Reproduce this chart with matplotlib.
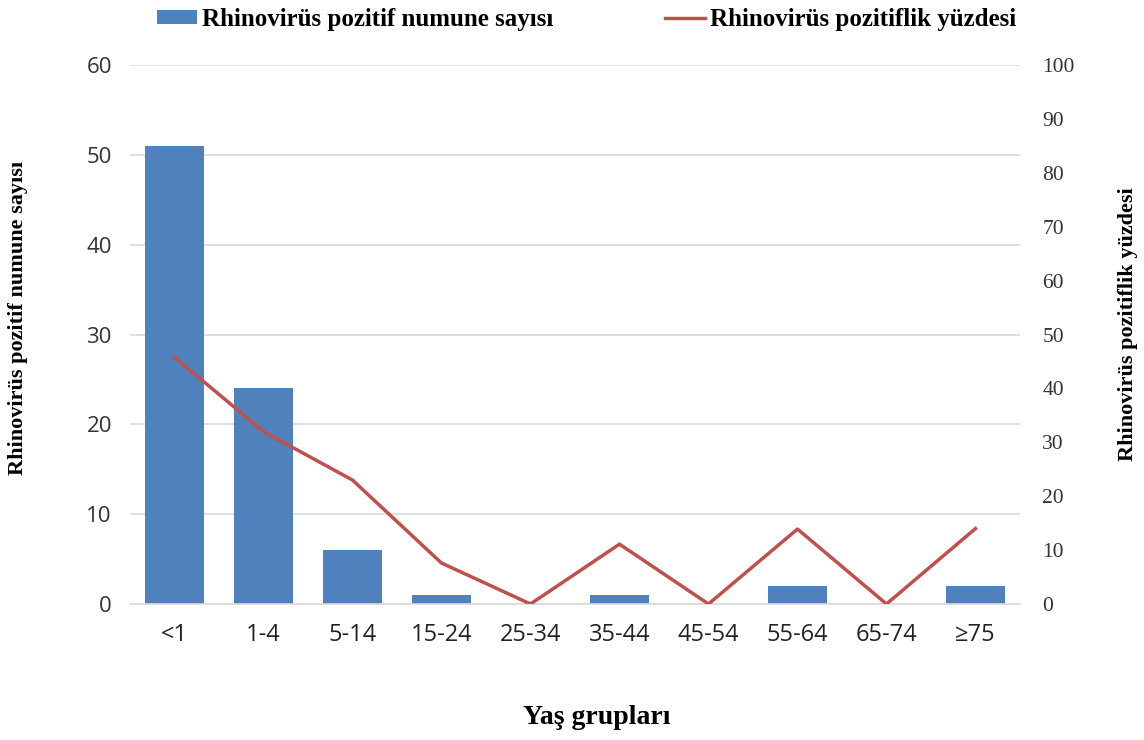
import matplotlib.pyplot as plt
import numpy as np

# data
yas_gruplari = ["<1", "1-4", "5-14", "15-24", "25-34", "35-44", "45-54", "55-64", "65-74", "≥75"]
pozitif_sayi = [51, 24, 6, 1, 0, 1, 0, 2, 0, 2]
pozitif_yuzde = [45.8, 32.0, 23.0, 7.6, 0, 11.1, 0, 13.9, 0, 14.0]

bar_renk = "#4F81BD"
cizgi_renk = "#C0504D"
serif = ["Liberation Serif", "DejaVu Serif"]
sans = ["Open Sans", "DejaVu Sans"]

fig = plt.figure(figsize=(11.44, 7.4), dpi=100)
ax = fig.add_axes([0.1136, 0.1838, 0.778, 0.7282])
ax2 = ax.twinx()

x = np.arange(len(yas_gruplari))
ax.bar(x, pozitif_sayi, width=0.67, color=bar_renk, zorder=2,
       label="Rhinovirüs pozitif numune sayısı")
ax2.plot(x, pozitif_yuzde, color=cizgi_renk, lw=2.5, zorder=3,
         label="Rhinovirüs pozitiflik yüzdesi")

ax.set_xlim(-0.5, len(yas_gruplari) - 0.5)
ax.set_ylim(0, 60)
ax.set_yticks(range(0, 61, 10))
ax2.set_ylim(0, 100)
ax2.set_yticks(range(0, 101, 10))

ax.grid(axis="y", color="#D9D9D9", lw=1.2, zorder=0)
ax.set_axisbelow(True)
for a in (ax, ax2):
    for s in a.spines.values():
        s.set_visible(False)
ax.spines["bottom"].set_visible(True)
ax.spines["bottom"].set_color("#D9D9D9")
ax.spines["bottom"].set_linewidth(1.2)

ax.set_xticks(x)
ax.set_xticklabels(yas_gruplari, fontsize=17, family=sans, color="#222222")
ax.tick_params(axis="x", length=0, pad=14)
ax.tick_params(axis="y", length=0, pad=13)
ax2.tick_params(axis="y", length=0, pad=16)
for lab in ax.get_yticklabels():
    lab.set_family(sans)
    lab.set_fontsize(16)
    lab.set_color("#333333")
for lab in ax2.get_yticklabels():
    lab.set_family(serif)
    lab.set_fontsize(15.5)
    lab.set_color("#333333")

ax.set_xlabel("Yaş grupları", family=serif, fontsize=20, fontweight="bold")
ax.xaxis.set_label_coords(0.524, -0.187)
ax.set_ylabel("Rhinovirüs pozitif numune sayısı", family=serif, fontsize=16,
              fontweight="bold")
ax.yaxis.set_label_coords(-0.114, 0.53)
ax2.set_ylabel("Rhinovirüs pozitiflik yüzdesi", family=serif, fontsize=16,
               fontweight="bold")
ax2.yaxis.set_label_coords(1.110, 0.52)

h1, l1 = ax.get_legend_handles_labels()
h2, l2 = ax2.get_legend_handles_labels()
fig.legend(h1 + h2, l1 + l2, loc="upper center", bbox_to_anchor=(0.5127, 1.02), ncol=2,
           frameon=False, prop={"family": serif, "size": 18, "weight": "bold"},
           columnspacing=4.5, handlelength=1.6, handleheight=0.45, handletextpad=0.2)

fig.savefig("out.png", dpi=100)
